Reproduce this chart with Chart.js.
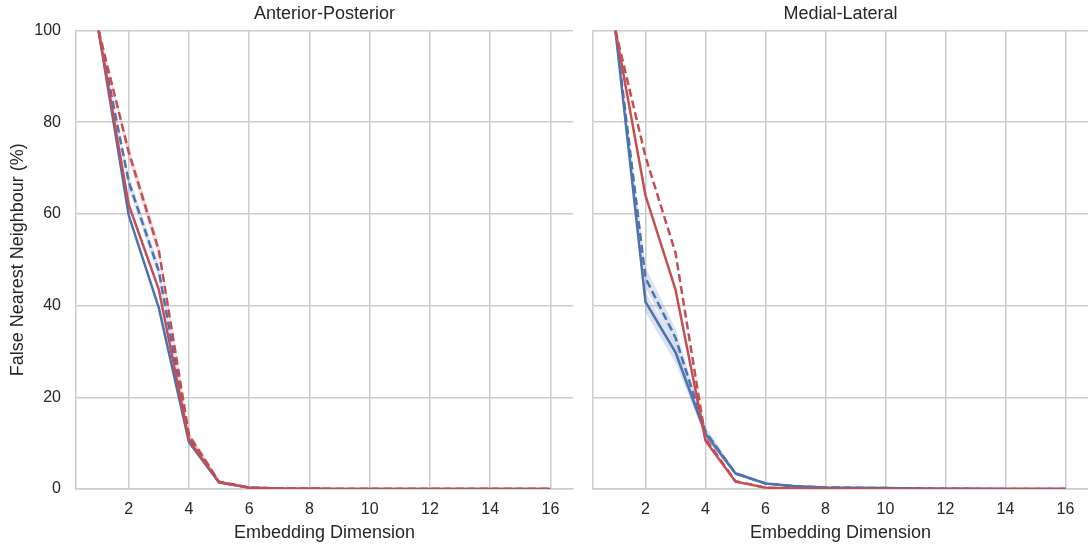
<!DOCTYPE html>
<html>
<head>
<meta charset="utf-8">
<script src="https://cdn.jsdelivr.net/npm/chart.js@4.4.1/dist/chart.umd.min.js"></script>
<style>
  body { margin: 0; background: #fff; }
  #wrap { position: relative; width: 1088px; height: 546px; }
  .panel { position: absolute; top: 0; height: 546px; }
</style>
</head>
<body>
<div id="wrap">
  <div class="panel" style="left:0;width:583px"><canvas id="apChart"></canvas></div>
  <div class="panel" style="left:583px;width:505px"><canvas id="mlChart"></canvas></div>
</div>
<script>
const dims = [1, 2, 3, 4, 5, 6, 7, 8, 9, 10, 11, 12, 13, 14, 15, 16];
const xTicks = [2, 4, 6, 8, 10, 12, 14, 16];
const yTicks = [0, 20, 40, 60, 80, 100];

// Anterior-Posterior
const apBlueSolid  = [100, 59.7, 39.5, 10.2, 1.4, 0.3, 0.1, 0.05, 0, 0, 0, 0, 0, 0, 0, 0];
const apRedSolid   = [100, 62.0, 43.5, 10.6, 1.5, 0.3, 0.1, 0.05, 0, 0, 0, 0, 0, 0, 0, 0];
const apBlueDashed = [100, 67.0, 47.5, 11.2, 1.5, 0.3, 0.1, 0.05, 0, 0, 0, 0, 0, 0, 0, 0];
const apRedDashed  = [100, 73.5, 52.0, 11.8, 1.6, 0.3, 0.1, 0.05, 0, 0, 0, 0, 0, 0, 0, 0];
const apBlueDashedLo = [100, 65.5, 46.0, 10.6, 1.3, 0.2, 0.05, 0, 0, 0, 0, 0, 0, 0, 0, 0];
const apBlueDashedHi = [100, 68.5, 49.0, 11.9, 1.8, 0.4, 0.15, 0.1, 0, 0, 0, 0, 0, 0, 0, 0];
const apRedDashedLo  = [100, 72.0, 50.5, 11.2, 1.4, 0.2, 0.05, 0, 0, 0, 0, 0, 0, 0, 0, 0];
const apRedDashedHi  = [100, 75.0, 53.5, 12.5, 1.9, 0.4, 0.15, 0.1, 0, 0, 0, 0, 0, 0, 0, 0];

// Medial-Lateral
const mlBlueSolid  = [100, 40.8, 29.8, 12.0, 3.4, 1.2, 0.6, 0.35, 0.25, 0.2, 0.12, 0.06, 0.03, 0, 0, 0];
const mlBlueDashed = [100, 46.0, 33.0, 12.5, 3.4, 1.2, 0.6, 0.35, 0.25, 0.2, 0.12, 0.06, 0.03, 0, 0, 0];
const mlRedSolid   = [100, 64.0, 43.5, 10.5, 1.6, 0.3, 0.1, 0.05, 0, 0, 0, 0, 0, 0, 0, 0];
const mlRedDashed  = [100, 72.5, 51.5, 11.0, 1.7, 0.3, 0.1, 0.05, 0, 0, 0, 0, 0, 0, 0, 0];
const mlBlueSolidLo  = [100, 38.5, 27.5, 11.0, 3.0, 1.0, 0.5, 0.3, 0.2, 0.15, 0.1, 0.05, 0, 0, 0, 0];
const mlBlueSolidHi  = [100, 43.0, 31.5, 13.0, 3.8, 1.4, 0.7, 0.4, 0.3, 0.25, 0.15, 0.08, 0.05, 0, 0, 0];
const mlBlueDashedLo = [100, 44.0, 31.0, 11.5, 3.0, 1.0, 0.5, 0.3, 0.2, 0.15, 0.1, 0.05, 0, 0, 0, 0];
const mlBlueDashedHi = [100, 48.5, 35.0, 13.5, 3.8, 1.4, 0.7, 0.4, 0.3, 0.25, 0.15, 0.08, 0.05, 0, 0, 0];

const BLUE = '#4c72b0';
const RED = '#c44e52';
const BLUE_BAND = 'rgba(76,114,176,0.2)';
const RED_BAND = 'rgba(196,78,82,0.2)';
const GRID = '#cccccc';
const TEXT = '#262626';
const FONT = "'Liberation Sans', Arial, sans-serif";

const pts = arr => arr.map((v, i) => ({ x: dims[i], y: v }));

function line(data, color, dashed) {
  return {
    data: pts(data), borderColor: color, borderWidth: 2.5,
    borderDash: dashed ? [8, 4] : [], pointRadius: 0, tension: 0, fill: false
  };
}

function band(lo, hi, color) {
  return [
    { data: pts(lo), borderWidth: 0, borderColor: 'rgba(0,0,0,0)', pointRadius: 0, fill: false },
    { data: pts(hi), borderWidth: 0, borderColor: 'rgba(0,0,0,0)', pointRadius: 0, fill: '-1', backgroundColor: color }
  ];
}

function makeChart(id, title, datasets, showY) {
  new Chart(document.getElementById(id), {
    type: 'line',
    data: { datasets: datasets },
    options: {
      responsive: true,
      maintainAspectRatio: false,
      animation: false,
      layout: { padding: { left: 0, right: showY ? 10 : 0, top: 0, bottom: 0 } },
      plugins: {
        legend: { display: false },
        tooltip: { enabled: false },
        title: {
          display: true, text: title, color: TEXT, fullSize: false,
          font: { family: FONT, size: 18, weight: 'normal' },
          padding: { top: 3.2, bottom: 5.7 }
        }
      },
      scales: {
        x: {
          type: 'linear', min: 0.25, max: 16.75,
          afterBuildTicks: s => { s.ticks = xTicks.map(v => ({ value: v })); },
          afterFit: s => { s.height = 57; },
          grid: { color: GRID, lineWidth: 1.5, drawTicks: false },
          border: { color: GRID, width: 1.5 },
          ticks: { color: TEXT, padding: 11, font: { family: FONT, size: 16 } },
          title: {
            display: true, text: 'Embedding Dimension', color: TEXT,
            font: { family: FONT, size: 18 }, padding: { top: 0, bottom: 2.2 }
          }
        },
        y: {
          min: 0, max: 100,
          afterBuildTicks: s => { s.ticks = yTicks.map(v => ({ value: v })); },
          afterFit: s => { s.width = showY ? 76 : 10; },
          grid: { color: GRID, lineWidth: 1.5, drawTicks: false },
          border: { color: GRID, width: 1.5 },
          ticks: { display: showY, color: TEXT, padding: 15, font: { family: FONT, size: 16 } },
          title: {
            display: showY, text: 'False Nearest Neighbour (%)', color: TEXT,
            font: { family: FONT, size: 18 }, padding: { top: 7, bottom: 0 }
          }
        }
      }
    }
  });
}

makeChart('apChart', 'Anterior-Posterior', [
  line(apRedSolid, RED, false),
  line(apRedDashed, RED, true),
  line(apBlueSolid, BLUE, false),
  line(apBlueDashed, BLUE, true),
  ...band(apRedDashedLo, apRedDashedHi, RED_BAND),
  ...band(apBlueDashedLo, apBlueDashedHi, BLUE_BAND)
], true);

makeChart('mlChart', 'Medial-Lateral', [
  line(mlRedSolid, RED, false),
  line(mlRedDashed, RED, true),
  line(mlBlueSolid, BLUE, false),
  line(mlBlueDashed, BLUE, true),
  ...band(mlBlueSolidLo, mlBlueSolidHi, BLUE_BAND),
  ...band(mlBlueDashedLo, mlBlueDashedHi, BLUE_BAND)
], false);
</script>
</body>
</html>
